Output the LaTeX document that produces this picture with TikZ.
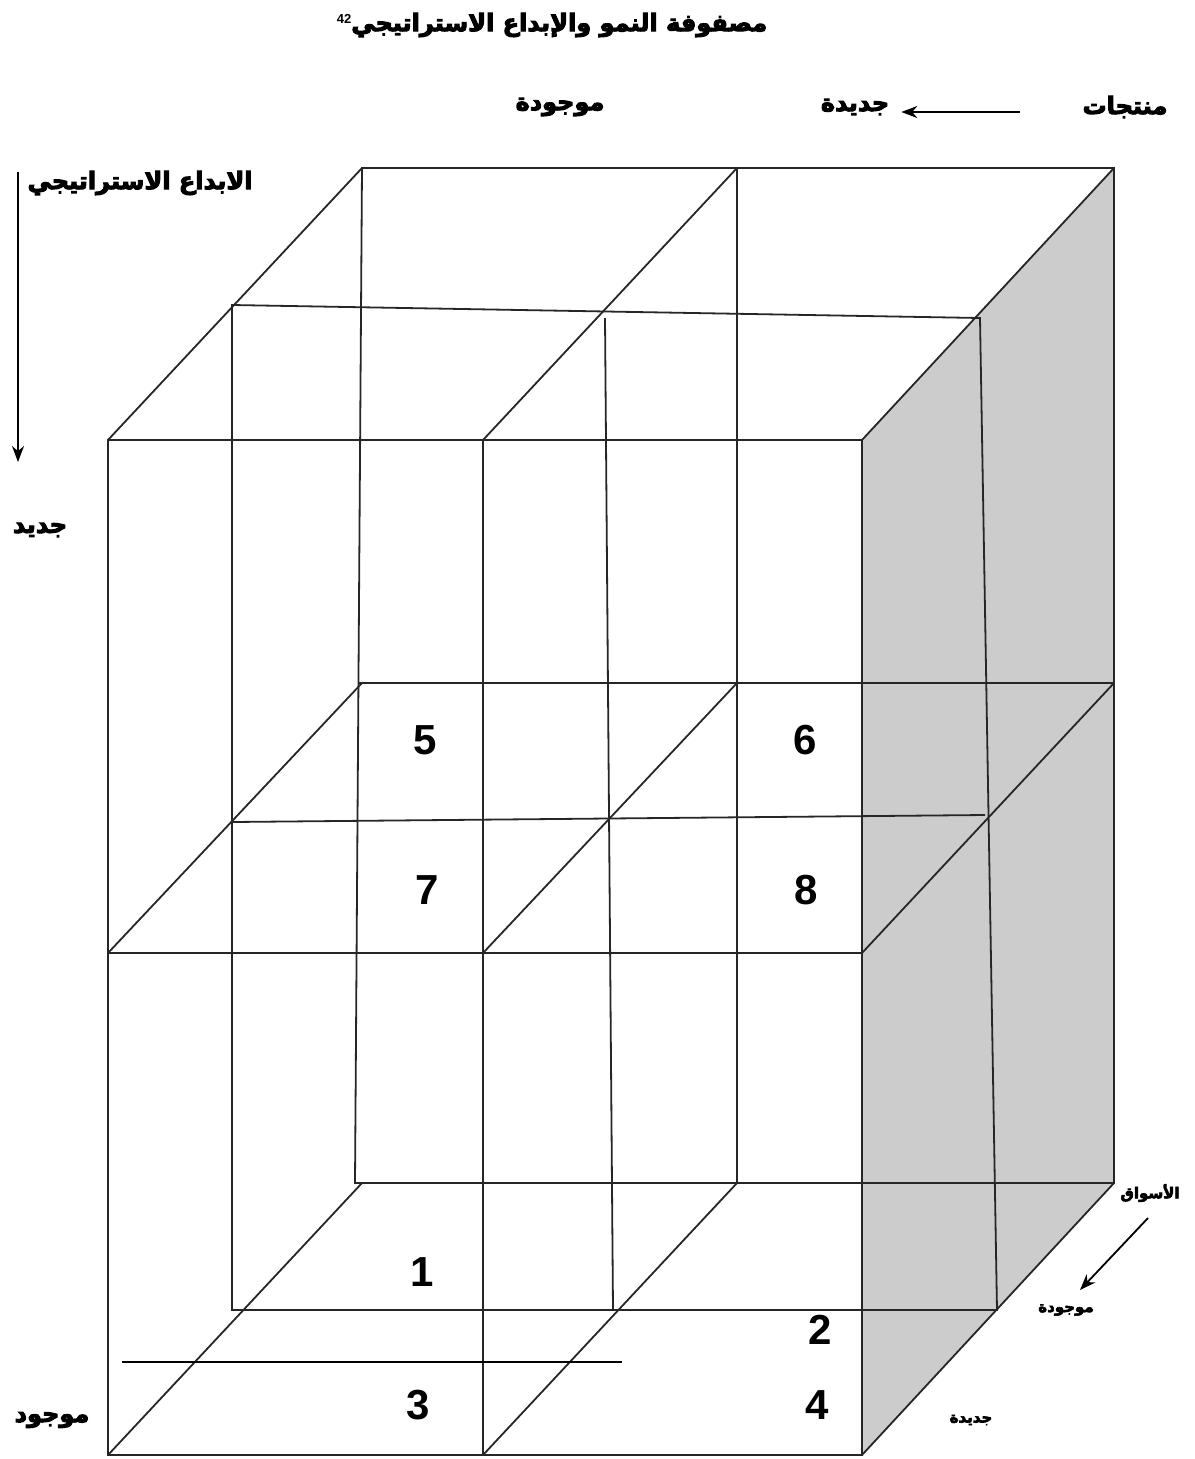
\documentclass[tikz,border=0pt]{standalone}
\usepackage{fontspec}
\setmainfont{Liberation Sans}
\newfontfamily\arabicfont[Script=Arabic, FakeBold=4]{DejaVu Sans}
\TeXXeTstate=1
\usetikzlibrary{arrows.meta}
\tikzset{
  grid line/.style={draw=black!85, line width=1.8pt},
  cell num/.style={font=\bfseries\fontsize{42}{42}\selectfont, inner sep=0pt},
  ar label/.style={font=\arabicfont\bfseries\fontsize{24}{28}\selectfont, inner sep=0pt},
  ar small/.style={font=\arabicfont\bfseries\fontsize{15}{18}\selectfont, inner sep=0pt}
}
\begin{document}
\begin{tikzpicture}[x=1pt, y=-1pt, >={Stealth[length=16pt,width=12pt]}]
  \useasboundingbox (0,0) rectangle (1194,1459);
  % shaded side of the cube
  \fill[black!20] (862,440) -- (1114,168) -- (1114,1183) -- (862,1455) -- cycle;
  % back face
  \draw[grid line] (362,168) -- (1114,168) -- (1114,1183) -- (355,1183) -- cycle;
  \draw[grid line] (358,683) -- (1114,683);
  \draw[grid line] (737,168) -- (737,1183);
  % middle slice
  \draw[grid line] (232,305) -- (980,318) -- (997,1310) -- (232,1310) -- cycle;
  \draw[grid line] (232,822) -- (985,815);
  \draw[grid line] (605,318) -- (613,1310);
  % depth edges
  \foreach \x/\xb in {108/362, 483/737, 862/1114}
    \foreach \y/\yb in {440/168, 953/683, 1455/1183}
      \draw[grid line] (\x,\y) -- (\xb,\yb);
  % front face
  \draw[grid line] (108,440) rectangle (862,1455);
  \draw[grid line] (108,953) -- (862,953);
  \draw[grid line] (483,440) -- (483,1455);
  \draw[grid line, black] (122,1362) -- (622,1362);
  % cell numbers
  \node[cell num] (n5) at (425,740) {5};
  \node[cell num] (n6) at (805,740) {6};
  \node[cell num] (n7) at (427,890) {7};
  \node[cell num] (n8) at (806,890) {8};
  \node[cell num] (n1) at (422,1272) {1};
  \node[cell num] (n2) at (820,1330) {2};
  \node[cell num] (n3) at (418,1405) {3};
  \node[cell num] (n4) at (817,1405) {4};
  % titles and axis labels
  \node[ar label] (title) at (552,25) {\raisebox{8pt}{\normalfont\bfseries\fontsize{13}{13}\selectfont 42}\beginR مصفوفة النمو والإبداع الاستراتيجي\endR};
  \node[ar label] (products) at (1125,107) {\beginR منتجات\endR};
  \node[ar label] (newprod) at (855,107) {\beginR جديدة\endR};
  \node[ar label] (oldprod) at (560,107) {\beginR موجودة\endR};
  \node[ar label] (innov) at (140,183) {\beginR الابداع الاستراتيجي\endR};
  \node[ar label] (newinnov) at (40,530) {\beginR جديد\endR};
  \node[ar label] (oldinnov) at (52,1420) {\beginR موجود\endR};
  \node[ar small] (markets) at (1150,1193) {\beginR الأسواق\endR};
  \node[ar small] (oldmkt) at (1066,1310) {\beginR موجودة\endR};
  \node[ar small] (newmkt) at (971,1420) {\beginR جديدة\endR};
  % arrows
  \coordinate (prodtail) at (1020,112);
  \coordinate (innovtail) at (18,172);
  \coordinate (innovhead) at (18,462);
  \coordinate (mkttail) at (1148,1218);
  \coordinate (mkthead) at (1080,1290);
  \draw[->, line width=1.8pt] (prodtail) -- ([xshift=12pt]newprod.east |- prodtail);
  \draw[->, line width=1.8pt] (innovtail) -- (innovhead);
  \draw[->, line width=1.8pt] (mkttail) -- (mkthead);
\end{tikzpicture}
\end{document}
